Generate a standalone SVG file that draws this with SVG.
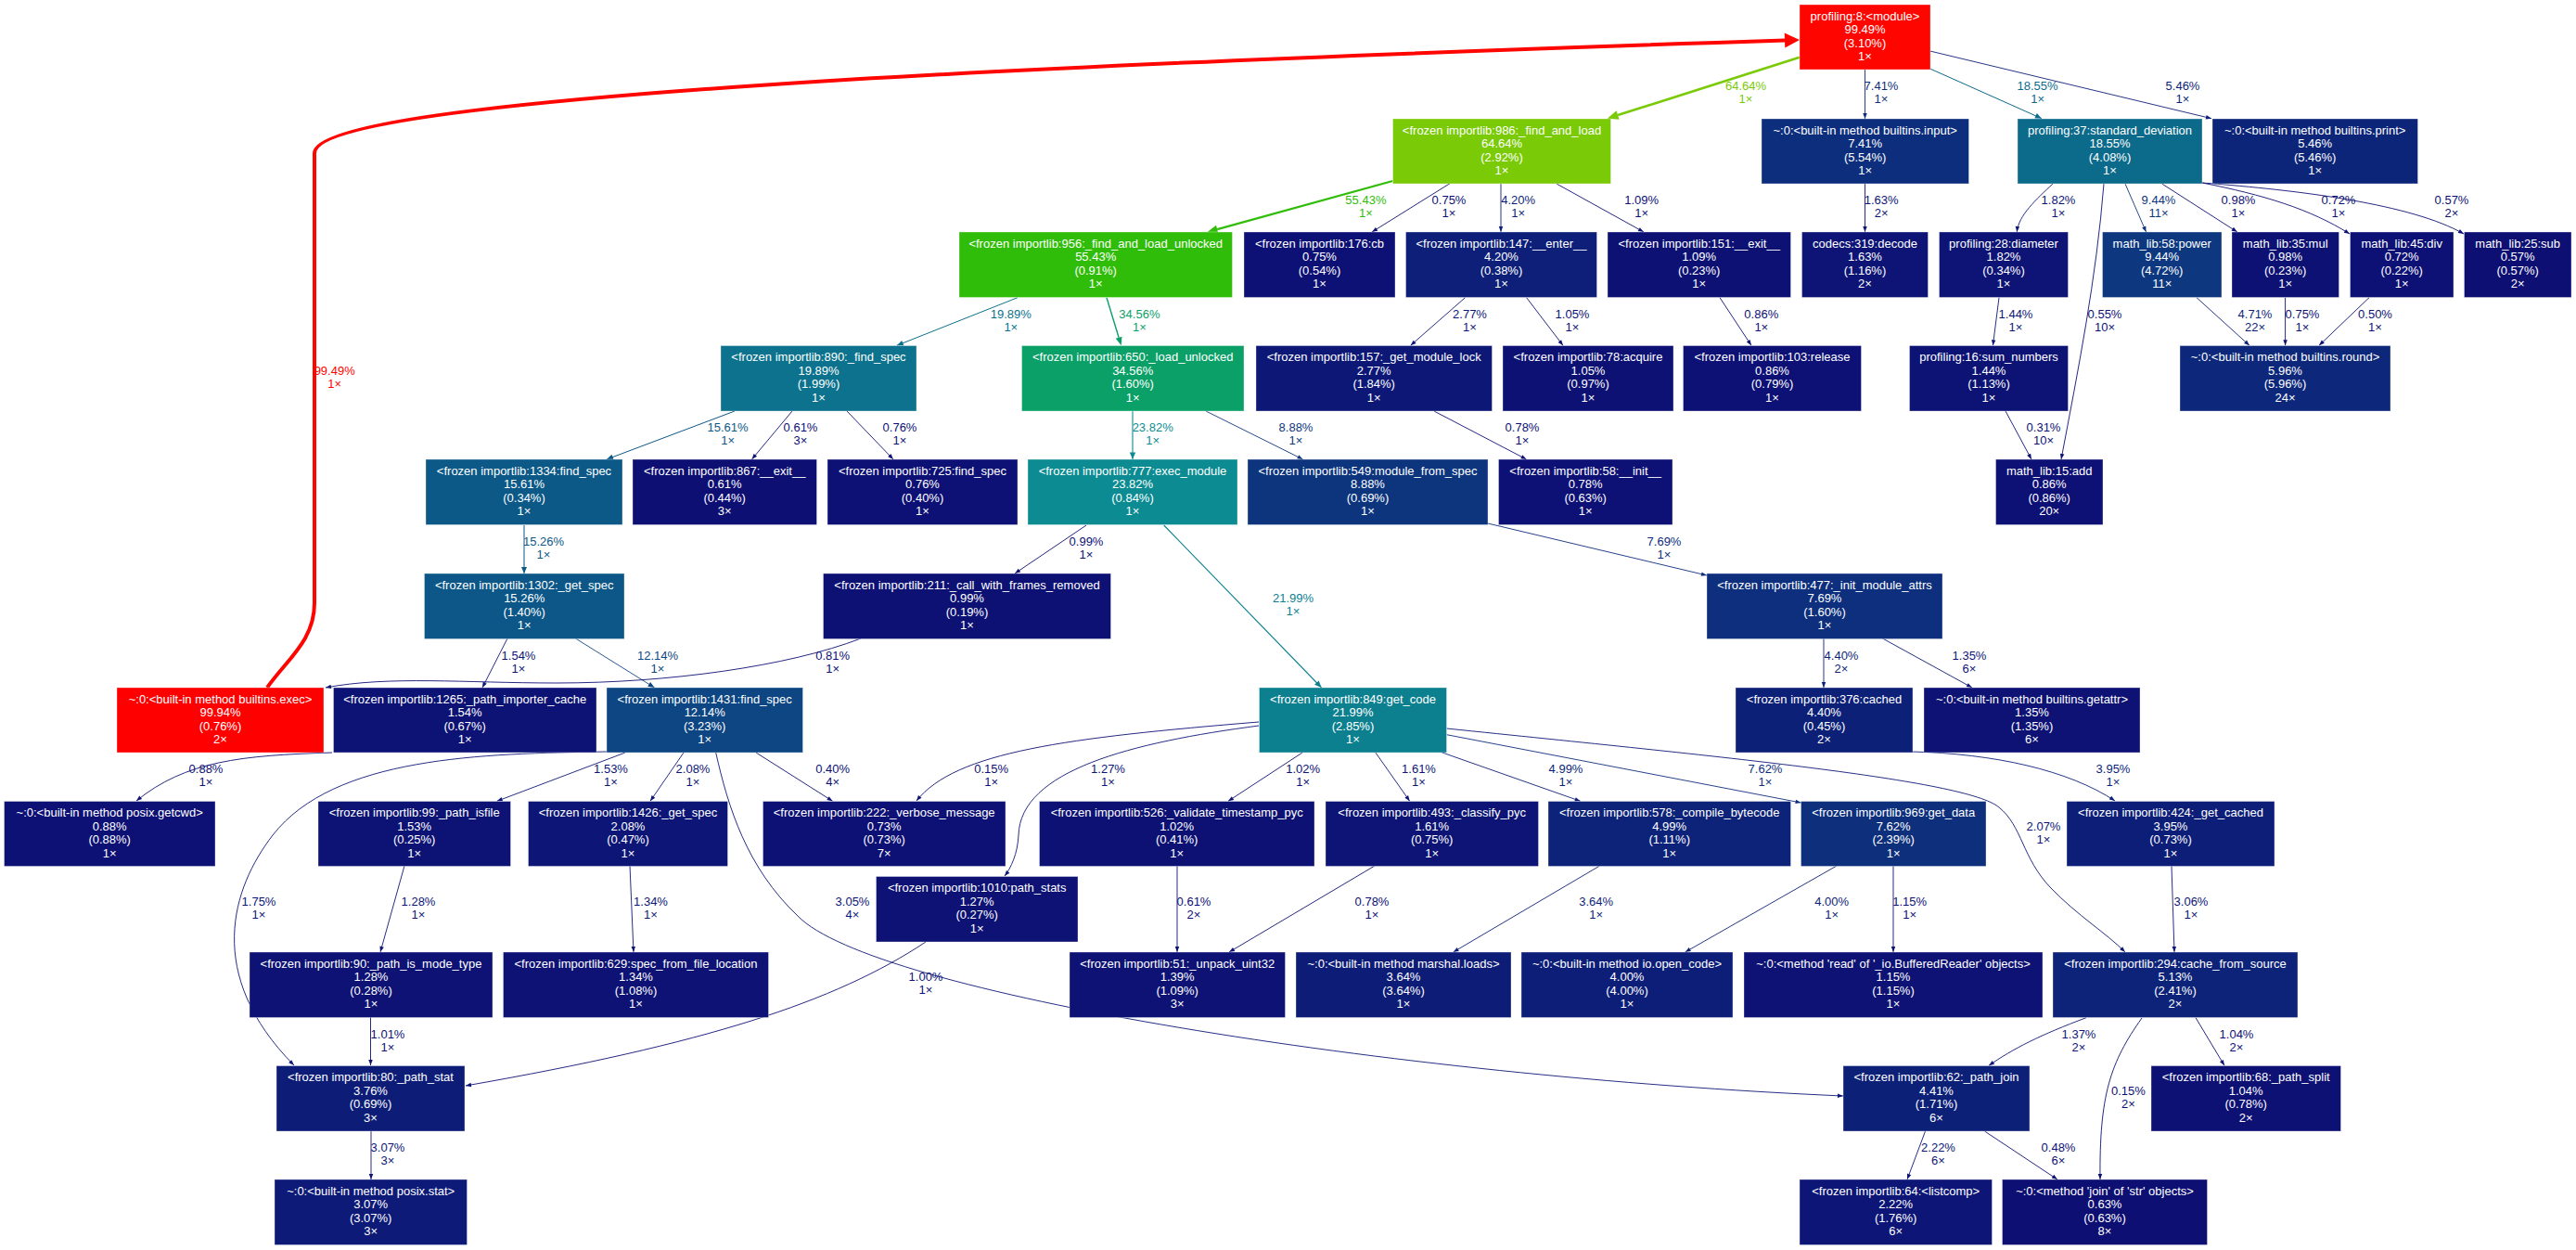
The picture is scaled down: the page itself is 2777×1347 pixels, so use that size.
<svg xmlns="http://www.w3.org/2000/svg" width="2777" height="1347" viewBox="0 0 2777 1347">
<style>
text{font-family:"Liberation Sans",Arial,Helvetica,sans-serif;font-size:13px}
.n text{fill:#fff;text-anchor:middle}
.n rect{stroke:#fff;stroke-opacity:.35;stroke-width:1}
.edge path{fill:none}
.edge text{text-anchor:middle}
.e0 path{stroke:#0d1074;stroke-width:.9;marker-end:url(#m0)}.e0 text{fill:#0d1074}
.e1 path{stroke:#0d1676;stroke-width:.9;marker-end:url(#m1)}.e1 text{fill:#0d1676}
.e2 path{stroke:#0d1f78;stroke-width:.9;marker-end:url(#m2)}.e2 text{fill:#0d1f78}
.e3 path{stroke:#0d2e7c;stroke-width:.9;marker-end:url(#m3)}.e3 text{fill:#0d2e7c}
.e4 path{stroke:#0d367e;stroke-width:.9;marker-end:url(#m4)}.e4 text{fill:#0d367e}
.e5 path{stroke:#0d4682;stroke-width:.9;marker-end:url(#m5)}.e5 text{fill:#0d4682}
.e6 path{stroke:#0c5887;stroke-width:1;marker-end:url(#m6)}.e6 text{fill:#0c5887}
.e7 path{stroke:#0c6a8b;stroke-width:1;marker-end:url(#m7)}.e7 text{fill:#0c6a8b}
.e8 path{stroke:#0c728d;stroke-width:1;marker-end:url(#m8)}.e8 text{fill:#0c728d}
.e9 path{stroke:#0c808f;stroke-width:1.1;marker-end:url(#m9)}.e9 text{fill:#0c808f}
.e10 path{stroke:#0c8c92;stroke-width:1.1;marker-end:url(#m10)}.e10 text{fill:#0c8c92}
.e11 path{stroke:#0ba067;stroke-width:1.4;marker-end:url(#m11)}.e11 text{fill:#0ba067}
.e12 path{stroke:#30bd09;stroke-width:2.3;marker-end:url(#m12)}.e12 text{fill:#30bd09}
.e13 path{stroke:#7aca07;stroke-width:2.6;marker-end:url(#m13)}.e13 text{fill:#7aca07}
.e14 path{stroke:#fe0500;stroke-width:4;marker-end:url(#m14)}.e14 text{fill:#fe0500}
</style>
<defs>
<marker id="m0" markerUnits="userSpaceOnUse" markerWidth="7" markerHeight="5" refX="6" refY="2.25" orient="auto" overflow="visible"><path d="M0,0L6,2.25L0,4.5z" fill="#0d1074"/></marker>
<marker id="m1" markerUnits="userSpaceOnUse" markerWidth="7" markerHeight="5" refX="6" refY="2.25" orient="auto" overflow="visible"><path d="M0,0L6,2.25L0,4.5z" fill="#0d1676"/></marker>
<marker id="m2" markerUnits="userSpaceOnUse" markerWidth="7" markerHeight="5" refX="6" refY="2.25" orient="auto" overflow="visible"><path d="M0,0L6,2.25L0,4.5z" fill="#0d1f78"/></marker>
<marker id="m3" markerUnits="userSpaceOnUse" markerWidth="7" markerHeight="5" refX="6" refY="2.25" orient="auto" overflow="visible"><path d="M0,0L6,2.25L0,4.5z" fill="#0d2e7c"/></marker>
<marker id="m4" markerUnits="userSpaceOnUse" markerWidth="7" markerHeight="5" refX="6" refY="2.25" orient="auto" overflow="visible"><path d="M0,0L6,2.25L0,4.5z" fill="#0d367e"/></marker>
<marker id="m5" markerUnits="userSpaceOnUse" markerWidth="8" markerHeight="6" refX="7" refY="2.75" orient="auto" overflow="visible"><path d="M0,0L7,2.75L0,5.5z" fill="#0d4682"/></marker>
<marker id="m6" markerUnits="userSpaceOnUse" markerWidth="8" markerHeight="6" refX="7" refY="3" orient="auto" overflow="visible"><path d="M0,0L7,3L0,6z" fill="#0c5887"/></marker>
<marker id="m7" markerUnits="userSpaceOnUse" markerWidth="8" markerHeight="6" refX="7" refY="3" orient="auto" overflow="visible"><path d="M0,0L7,3L0,6z" fill="#0c6a8b"/></marker>
<marker id="m8" markerUnits="userSpaceOnUse" markerWidth="8" markerHeight="6" refX="7" refY="3" orient="auto" overflow="visible"><path d="M0,0L7,3L0,6z" fill="#0c728d"/></marker>
<marker id="m9" markerUnits="userSpaceOnUse" markerWidth="8" markerHeight="7" refX="7.5" refY="3.2" orient="auto" overflow="visible"><path d="M0,0L7.5,3.2L0,6.4z" fill="#0c808f"/></marker>
<marker id="m10" markerUnits="userSpaceOnUse" markerWidth="8" markerHeight="7" refX="7.5" refY="3.2" orient="auto" overflow="visible"><path d="M0,0L7.5,3.2L0,6.4z" fill="#0c8c92"/></marker>
<marker id="m11" markerUnits="userSpaceOnUse" markerWidth="10" markerHeight="8" refX="0" refY="3.5" orient="auto" overflow="visible"><path d="M0,0L9,3.5L0,7z" fill="#0ba067"/></marker>
<marker id="m12" markerUnits="userSpaceOnUse" markerWidth="12" markerHeight="10" refX="0" refY="4.5" orient="auto" overflow="visible"><path d="M0,0L11,4.5L0,9z" fill="#30bd09"/></marker>
<marker id="m13" markerUnits="userSpaceOnUse" markerWidth="13" markerHeight="11" refX="0" refY="5" orient="auto" overflow="visible"><path d="M0,0L12,5L0,10z" fill="#7aca07"/></marker>
<marker id="m14" markerUnits="userSpaceOnUse" markerWidth="17" markerHeight="17" refX="0" refY="8" orient="auto" overflow="visible"><path d="M0,0L16,8L0,16z" fill="#fe0500"/></marker>
</defs>
<rect x="0" y="0" width="2777" height="1347" fill="#fff"/>
<g id="edges">
<g class="edge e14" id="e-exec-module"><path d="M288,741C310,710 339,690 339,650L339,165C339,105 1100,70 1924,43.5"/><text x="360.7" y="403.7"><tspan x="360.7">99.49%</tspan><tspan x="360.7" dy="14">1×</tspan></text></g>
<g class="edge e13" id="e-module-986"><path d="M1940,61.7L1744.1,124.1"/><text x="1882" y="97.4"><tspan x="1882">64.64%</tspan><tspan x="1882" dy="14">1×</tspan></text></g>
<g class="edge e3" id="e-module-input"><path d="M2010.5,75L2010.5,128"/><text x="2028" y="97.4"><tspan x="2028">7.41%</tspan><tspan x="2028" dy="14">1×</tspan></text></g>
<g class="edge e7" id="e-module-std"><path d="M2080.6,74L2201,127.7"/><text x="2196.6" y="97.4"><tspan x="2196.6">18.55%</tspan><tspan x="2196.6" dy="14">1×</tspan></text></g>
<g class="edge e2" id="e-module-print"><path d="M2080.6,55L2384,127.7"/><text x="2353" y="97.4"><tspan x="2353">5.46%</tspan><tspan x="2353" dy="14">1×</tspan></text></g>
<g class="edge e12" id="e-986-956"><path d="M1501.4,195L1312.2,247.1"/><text x="1472.4" y="220.4"><tspan x="1472.4">55.43%</tspan><tspan x="1472.4" dy="14">1×</tspan></text></g>
<g class="edge e0" id="e-986-176"><path d="M1563,197.7L1479,250"/><text x="1562" y="220.4"><tspan x="1562">0.75%</tspan><tspan x="1562" dy="14">1×</tspan></text></g>
<g class="edge e2" id="e-986-147"><path d="M1618,198L1618,250"/><text x="1636.7" y="220.4"><tspan x="1636.7">4.20%</tspan><tspan x="1636.7" dy="14">1×</tspan></text></g>
<g class="edge e0" id="e-986-151"><path d="M1678,198L1772,250"/><text x="1769.7" y="220.4"><tspan x="1769.7">1.09%</tspan><tspan x="1769.7" dy="14">1×</tspan></text></g>
<g class="edge e1" id="e-input-codecs"><path d="M2010.5,198L2010.5,250"/><text x="2028.2" y="220.4"><tspan x="2028.2">1.63%</tspan><tspan x="2028.2" dy="14">2×</tspan></text></g>
<g class="edge e1" id="e-std-diameter"><path d="M2213,198C2195,215 2176,232 2174.3,250"/><text x="2219" y="220.4"><tspan x="2219">1.82%</tspan><tspan x="2219" dy="14">1×</tspan></text></g>
<g class="edge e4" id="e-std-power"><path d="M2291,198L2313.6,250"/><text x="2327" y="220.4"><tspan x="2327">9.44%</tspan><tspan x="2327" dy="14">11×</tspan></text></g>
<g class="edge e0" id="e-std-mul"><path d="M2330.6,198L2411.8,250"/><text x="2413" y="220.4"><tspan x="2413">0.98%</tspan><tspan x="2413" dy="14">1×</tspan></text></g>
<g class="edge e0" id="e-std-div"><path d="M2374,197C2440,210 2490,225 2533,252"/><text x="2521" y="220.4"><tspan x="2521">0.72%</tspan><tspan x="2521" dy="14">1×</tspan></text></g>
<g class="edge e0" id="e-std-sub"><path d="M2374,197C2480,205 2600,220 2656,252"/><text x="2643" y="220.4"><tspan x="2643">0.57%</tspan><tspan x="2643" dy="14">2×</tspan></text></g>
<g class="edge e8" id="e-956-890"><path d="M1097,320.7L966.8,372.3"/><text x="1089.8" y="343"><tspan x="1089.8">19.89%</tspan><tspan x="1089.8" dy="14">1×</tspan></text></g>
<g class="edge e11" id="e-956-650"><path d="M1193,320.7L1206.1,363.7"/><text x="1228.4" y="343"><tspan x="1228.4">34.56%</tspan><tspan x="1228.4" dy="14">1×</tspan></text></g>
<g class="edge e1" id="e-147-157"><path d="M1579.5,320.7L1520.6,372.3"/><text x="1584.5" y="343"><tspan x="1584.5">2.77%</tspan><tspan x="1584.5" dy="14">1×</tspan></text></g>
<g class="edge e0" id="e-147-78"><path d="M1645.6,320.7L1685,372.3"/><text x="1695" y="343"><tspan x="1695">1.05%</tspan><tspan x="1695" dy="14">1×</tspan></text></g>
<g class="edge e0" id="e-151-103"><path d="M1854,320.7L1888,372.3"/><text x="1898.8" y="343"><tspan x="1898.8">0.86%</tspan><tspan x="1898.8" dy="14">1×</tspan></text></g>
<g class="edge e1" id="e-diameter-sum"><path d="M2155,320.7L2148.4,372.3"/><text x="2173" y="343"><tspan x="2173">1.44%</tspan><tspan x="2173" dy="14">1×</tspan></text></g>
<g class="edge e0" id="e-std-add"><path d="M2268,198C2260,300 2240,400 2222,495"/><text x="2269" y="343"><tspan x="2269">0.55%</tspan><tspan x="2269" dy="14">10×</tspan></text></g>
<g class="edge e2" id="e-power-round"><path d="M2368,320.7L2425,372.3"/><text x="2431" y="343"><tspan x="2431">4.71%</tspan><tspan x="2431" dy="14">22×</tspan></text></g>
<g class="edge e0" id="e-mul-round"><path d="M2463.6,320.7L2463.6,372.3"/><text x="2482" y="343"><tspan x="2482">0.75%</tspan><tspan x="2482" dy="14">1×</tspan></text></g>
<g class="edge e0" id="e-div-round"><path d="M2554,320.7L2500,372.3"/><text x="2560.5" y="343"><tspan x="2560.5">0.50%</tspan><tspan x="2560.5" dy="14">1×</tspan></text></g>
<g class="edge e6" id="e-890-1334"><path d="M792,443L654,495"/><text x="784.6" y="464.7"><tspan x="784.6">15.61%</tspan><tspan x="784.6" dy="14">1×</tspan></text></g>
<g class="edge e0" id="e-890-867"><path d="M854,443L810.5,495"/><text x="863" y="464.7"><tspan x="863">0.61%</tspan><tspan x="863" dy="14">3×</tspan></text></g>
<g class="edge e0" id="e-890-725"><path d="M913,443L963,495"/><text x="970" y="464.7"><tspan x="970">0.76%</tspan><tspan x="970" dy="14">1×</tspan></text></g>
<g class="edge e10" id="e-650-777"><path d="M1221,443L1221,495"/><text x="1242.7" y="464.7"><tspan x="1242.7">23.82%</tspan><tspan x="1242.7" dy="14">1×</tspan></text></g>
<g class="edge e4" id="e-650-549"><path d="M1300,443L1404.6,495"/><text x="1397" y="464.7"><tspan x="1397">8.88%</tspan><tspan x="1397" dy="14">1×</tspan></text></g>
<g class="edge e0" id="e-157-58"><path d="M1546,443L1645.6,495"/><text x="1641" y="464.7"><tspan x="1641">0.78%</tspan><tspan x="1641" dy="14">1×</tspan></text></g>
<g class="edge e0" id="e-sum-add"><path d="M2162,443L2190,495"/><text x="2203" y="464.7"><tspan x="2203">0.31%</tspan><tspan x="2203" dy="14">10×</tspan></text></g>
<g class="edge e6" id="e-1334-1302"><path d="M565,566L565,618"/><text x="586" y="588"><tspan x="586">15.26%</tspan><tspan x="586" dy="14">1×</tspan></text></g>
<g class="edge e0" id="e-777-211"><path d="M1171,566L1094,618"/><text x="1171" y="588"><tspan x="1171">0.99%</tspan><tspan x="1171" dy="14">1×</tspan></text></g>
<g class="edge e3" id="e-549-477"><path d="M1604,564L1840,620"/><text x="1794" y="588"><tspan x="1794">7.69%</tspan><tspan x="1794" dy="14">1×</tspan></text></g>
<g class="edge e9" id="e-777-getcode"><path d="M1254.7,566L1424.6,741"/><text x="1394" y="648.7"><tspan x="1394">21.99%</tspan><tspan x="1394" dy="14">1×</tspan></text></g>
<g class="edge e1" id="e-1302-1265"><path d="M547,688L520,741"/><text x="559" y="711.4"><tspan x="559">1.54%</tspan><tspan x="559" dy="14">1×</tspan></text></g>
<g class="edge e5" id="e-1302-1431"><path d="M620.5,688L705.6,741"/><text x="709" y="711.4"><tspan x="709">12.14%</tspan><tspan x="709" dy="14">1×</tspan></text></g>
<g class="edge e0" id="e-211-exec"><path d="M928,688C850,718 720,736 600,736C500,736 420,728 351,741"/><text x="897.6" y="711.4"><tspan x="897.6">0.81%</tspan><tspan x="897.6" dy="14">1×</tspan></text></g>
<g class="edge e2" id="e-477-376"><path d="M1966,688L1966,741"/><text x="1985" y="711.4"><tspan x="1985">4.40%</tspan><tspan x="1985" dy="14">2×</tspan></text></g>
<g class="edge e1" id="e-477-getattr"><path d="M2029.5,688L2126,741"/><text x="2123" y="711.4"><tspan x="2123">1.35%</tspan><tspan x="2123" dy="14">6×</tspan></text></g>
<g class="edge e0" id="e-1265-getcwd"><path d="M358,811C260,814 200,820 147,863"/><text x="222" y="833"><tspan x="222">0.88%</tspan><tspan x="222" dy="14">1×</tspan></text></g>
<g class="edge e1" id="e-1431-99"><path d="M674,811L535.7,863.3"/><text x="658.5" y="833"><tspan x="658.5">1.53%</tspan><tspan x="658.5" dy="14">1×</tspan></text></g>
<g class="edge e1" id="e-1431-1426"><path d="M737,811L701,863.3"/><text x="747" y="833"><tspan x="747">2.08%</tspan><tspan x="747" dy="14">1×</tspan></text></g>
<g class="edge e0" id="e-1431-222"><path d="M815,811L897.6,863.3"/><text x="897.6" y="833"><tspan x="897.6">0.40%</tspan><tspan x="897.6" dy="14">4×</tspan></text></g>
<g class="edge e0" id="e-getcode-222"><path d="M1357,778C1150,795 1030,810 988,863"/><text x="1068.6" y="833"><tspan x="1068.6">0.15%</tspan><tspan x="1068.6" dy="14">1×</tspan></text></g>
<g class="edge e1" id="e-getcode-pathstats"><path d="M1357,782C1220,800 1100,830 1098,900C1097,920 1090,935 1083,944"/><text x="1194.5" y="833"><tspan x="1194.5">1.27%</tspan><tspan x="1194.5" dy="14">1×</tspan></text></g>
<g class="edge e0" id="e-getcode-526"><path d="M1404.5,810.7L1324,863.3"/><text x="1404.6" y="833"><tspan x="1404.6">1.02%</tspan><tspan x="1404.6" dy="14">1×</tspan></text></g>
<g class="edge e1" id="e-getcode-493"><path d="M1482.7,810.7L1519.7,863.3"/><text x="1529.5" y="833"><tspan x="1529.5">1.61%</tspan><tspan x="1529.5" dy="14">1×</tspan></text></g>
<g class="edge e2" id="e-getcode-578"><path d="M1554,810.7L1703.7,863.3"/><text x="1688" y="833"><tspan x="1688">4.99%</tspan><tspan x="1688" dy="14">1×</tspan></text></g>
<g class="edge e3" id="e-getcode-969"><path d="M1559.5,791.7L1941.6,865"/><text x="1903" y="833"><tspan x="1903">7.62%</tspan><tspan x="1903" dy="14">1×</tspan></text></g>
<g class="edge e2" id="e-376-424"><path d="M2060,810C2150,812 2230,830 2280,863"/><text x="2278" y="833"><tspan x="2278">3.95%</tspan><tspan x="2278" dy="14">1×</tspan></text></g>
<g class="edge e1" id="e-getcode-cfs"><path d="M1559.5,785C1850,815 2120,840 2155,870C2180,890 2180,925 2211,957C2240,987 2270,1005 2291,1026"/><text x="2203" y="894.7"><tspan x="2203">2.07%</tspan><tspan x="2203" dy="14">1×</tspan></text></g>
<g class="edge e1" id="e-1431-pathstat"><path d="M654,810C520,812 360,815 294,900C250,957 220,1050 317,1148"/><text x="279" y="976.4"><tspan x="279">1.75%</tspan><tspan x="279" dy="14">1×</tspan></text></g>
<g class="edge e1" id="e-99-90"><path d="M436,933L410,1026"/><text x="451" y="976.4"><tspan x="451">1.28%</tspan><tspan x="451" dy="14">1×</tspan></text></g>
<g class="edge e1" id="e-1426-629"><path d="M679,933L683,1026"/><text x="701.5" y="976.4"><tspan x="701.5">1.34%</tspan><tspan x="701.5" dy="14">1×</tspan></text></g>
<g class="edge e1" id="e-1431-pathjoin"><path d="M771.7,811C785,870 805,935 860,987C940,1070 1500,1160 1987,1181"/><text x="919" y="976.4"><tspan x="919">3.05%</tspan><tspan x="919" dy="14">4×</tspan></text></g>
<g class="edge e0" id="e-526-51"><path d="M1269,933L1269,1026"/><text x="1287" y="976.4"><tspan x="1287">0.61%</tspan><tspan x="1287" dy="14">2×</tspan></text></g>
<g class="edge e0" id="e-493-51"><path d="M1482,933L1325,1026"/><text x="1479" y="976.4"><tspan x="1479">0.78%</tspan><tspan x="1479" dy="14">1×</tspan></text></g>
<g class="edge e2" id="e-578-marshal"><path d="M1724.6,933L1566.6,1026"/><text x="1720.6" y="976.4"><tspan x="1720.6">3.64%</tspan><tspan x="1720.6" dy="14">1×</tspan></text></g>
<g class="edge e2" id="e-969-open"><path d="M1980,933L1816.6,1026"/><text x="1974.6" y="976.4"><tspan x="1974.6">4.00%</tspan><tspan x="1974.6" dy="14">1×</tspan></text></g>
<g class="edge e0" id="e-969-read"><path d="M2041,933L2041,1026"/><text x="2058.6" y="976.4"><tspan x="2058.6">1.15%</tspan><tspan x="2058.6" dy="14">1×</tspan></text></g>
<g class="edge e1" id="e-424-cfs"><path d="M2341,933L2344,1026"/><text x="2362" y="976.4"><tspan x="2362">3.06%</tspan><tspan x="2362" dy="14">1×</tspan></text></g>
<g class="edge e0" id="e-pathstats-pathstat"><path d="M998,1015C900,1080 760,1125 502,1170"/><text x="998" y="1057.4"><tspan x="998">1.00%</tspan><tspan x="998" dy="14">1×</tspan></text></g>
<g class="edge e0" id="e-90-pathstat"><path d="M399.5,1096L399.5,1148"/><text x="418" y="1119"><tspan x="418">1.01%</tspan><tspan x="418" dy="14">1×</tspan></text></g>
<g class="edge e1" id="e-cfs-pathjoin"><path d="M2249,1096.7C2200,1115 2170,1130 2144,1148.3"/><text x="2241" y="1119"><tspan x="2241">1.37%</tspan><tspan x="2241" dy="14">2×</tspan></text></g>
<g class="edge e0" id="e-cfs-split"><path d="M2367,1096.7L2398,1148.3"/><text x="2411" y="1119"><tspan x="2411">1.04%</tspan><tspan x="2411" dy="14">2×</tspan></text></g>
<g class="edge e0" id="e-cfs-join"><path d="M2309,1097C2275,1145 2263,1180 2264,1271"/><text x="2294.4" y="1180.4"><tspan x="2294.4">0.15%</tspan><tspan x="2294.4" dy="14">2×</tspan></text></g>
<g class="edge e1" id="e-pathstat-posix"><path d="M400,1219L400,1271"/><text x="418" y="1241.4"><tspan x="418">3.07%</tspan><tspan x="418" dy="14">3×</tspan></text></g>
<g class="edge e1" id="e-pathjoin-listcomp"><path d="M2075.5,1219L2056,1271"/><text x="2089.5" y="1241.4"><tspan x="2089.5">2.22%</tspan><tspan x="2089.5" dy="14">6×</tspan></text></g>
<g class="edge e0" id="e-pathjoin-join"><path d="M2139.5,1219L2218,1271"/><text x="2219" y="1241.4"><tspan x="2219">0.48%</tspan><tspan x="2219" dy="14">6×</tspan></text></g>
</g>
<g id="nodes">
<g class="n" id="n-module"><rect x="1940" y="5" width="141" height="70" fill="#fe0500"/><text y="21.8"><tspan x="2010.5">profiling:8:&lt;module&gt;</tspan><tspan x="2010.5" dy="14.5">99.49%</tspan><tspan x="2010.5" dy="14.5">(3.10%)</tspan><tspan x="2010.5" dy="14.5">1×</tspan></text></g>
<g class="n" id="n-986"><rect x="1501.5" y="128" width="235" height="70" fill="#7aca07"/><text y="144.8"><tspan x="1619">&lt;frozen importlib:986:_find_and_load</tspan><tspan x="1619" dy="14.5">64.64%</tspan><tspan x="1619" dy="14.5">(2.92%)</tspan><tspan x="1619" dy="14.5">1×</tspan></text></g>
<g class="n" id="n-input"><rect x="1899" y="128" width="223.5" height="70" fill="#0d2e7c"/><text y="144.8"><tspan x="2010.7">~:0:&lt;built-in method builtins.input&gt;</tspan><tspan x="2010.7" dy="14.5">7.41%</tspan><tspan x="2010.7" dy="14.5">(5.54%)</tspan><tspan x="2010.7" dy="14.5">1×</tspan></text></g>
<g class="n" id="n-std"><rect x="2175" y="128" width="199" height="70" fill="#0c6a8b"/><text y="144.8"><tspan x="2274.5">profiling:37:standard_deviation</tspan><tspan x="2274.5" dy="14.5">18.55%</tspan><tspan x="2274.5" dy="14.5">(4.08%)</tspan><tspan x="2274.5" dy="14.5">1×</tspan></text></g>
<g class="n" id="n-print"><rect x="2385" y="128" width="221.5" height="70" fill="#0d2579"/><text y="144.8"><tspan x="2495.7">~:0:&lt;built-in method builtins.print&gt;</tspan><tspan x="2495.7" dy="14.5">5.46%</tspan><tspan x="2495.7" dy="14.5">(5.46%)</tspan><tspan x="2495.7" dy="14.5">1×</tspan></text></g>
<g class="n" id="n-956"><rect x="1034" y="250" width="294.5" height="70.5" fill="#30bd09"/><text y="266.8"><tspan x="1181.2">&lt;frozen importlib:956:_find_and_load_unlocked</tspan><tspan x="1181.2" dy="14.5">55.43%</tspan><tspan x="1181.2" dy="14.5">(0.91%)</tspan><tspan x="1181.2" dy="14.5">1×</tspan></text></g>
<g class="n" id="n-176"><rect x="1341" y="250" width="163" height="70.5" fill="#0d1074"/><text y="266.8"><tspan x="1422.5">&lt;frozen importlib:176:cb</tspan><tspan x="1422.5" dy="14.5">0.75%</tspan><tspan x="1422.5" dy="14.5">(0.54%)</tspan><tspan x="1422.5" dy="14.5">1×</tspan></text></g>
<g class="n" id="n-147"><rect x="1515.5" y="250" width="206" height="70.5" fill="#0d1f78"/><text y="266.8"><tspan x="1618.5">&lt;frozen importlib:147:__enter__</tspan><tspan x="1618.5" dy="14.5">4.20%</tspan><tspan x="1618.5" dy="14.5">(0.38%)</tspan><tspan x="1618.5" dy="14.5">1×</tspan></text></g>
<g class="n" id="n-151"><rect x="1733" y="250" width="197.5" height="70.5" fill="#0d1174"/><text y="266.8"><tspan x="1831.7">&lt;frozen importlib:151:__exit__</tspan><tspan x="1831.7" dy="14.5">1.09%</tspan><tspan x="1831.7" dy="14.5">(0.23%)</tspan><tspan x="1831.7" dy="14.5">1×</tspan></text></g>
<g class="n" id="n-codecs"><rect x="1942.5" y="250" width="136" height="70.5" fill="#0d1475"/><text y="266.8"><tspan x="2010.5">codecs:319:decode</tspan><tspan x="2010.5" dy="14.5">1.63%</tspan><tspan x="2010.5" dy="14.5">(1.16%)</tspan><tspan x="2010.5" dy="14.5">2×</tspan></text></g>
<g class="n" id="n-diameter"><rect x="2090.5" y="250" width="139" height="70.5" fill="#0d1475"/><text y="266.8"><tspan x="2160">profiling:28:diameter</tspan><tspan x="2160" dy="14.5">1.82%</tspan><tspan x="2160" dy="14.5">(0.34%)</tspan><tspan x="2160" dy="14.5">1×</tspan></text></g>
<g class="n" id="n-power"><rect x="2266.5" y="250" width="128.5" height="70.5" fill="#0d387f"/><text y="266.8"><tspan x="2330.7">math_lib:58:power</tspan><tspan x="2330.7" dy="14.5">9.44%</tspan><tspan x="2330.7" dy="14.5">(4.72%)</tspan><tspan x="2330.7" dy="14.5">11×</tspan></text></g>
<g class="n" id="n-mul"><rect x="2406" y="250" width="115.5" height="70.5" fill="#0d1174"/><text y="266.8"><tspan x="2463.7">math_lib:35:mul</tspan><tspan x="2463.7" dy="14.5">0.98%</tspan><tspan x="2463.7" dy="14.5">(0.23%)</tspan><tspan x="2463.7" dy="14.5">1×</tspan></text></g>
<g class="n" id="n-div"><rect x="2533.5" y="250" width="111.5" height="70.5" fill="#0d1074"/><text y="266.8"><tspan x="2589.2">math_lib:45:div</tspan><tspan x="2589.2" dy="14.5">0.72%</tspan><tspan x="2589.2" dy="14.5">(0.22%)</tspan><tspan x="2589.2" dy="14.5">1×</tspan></text></g>
<g class="n" id="n-sub"><rect x="2656.5" y="250" width="115.5" height="70.5" fill="#0d0f73"/><text y="266.8"><tspan x="2714.2">math_lib:25:sub</tspan><tspan x="2714.2" dy="14.5">0.57%</tspan><tspan x="2714.2" dy="14.5">(0.57%)</tspan><tspan x="2714.2" dy="14.5">2×</tspan></text></g>
<g class="n" id="n-890"><rect x="777" y="372.5" width="211" height="70.5" fill="#0c728d"/><text y="389.3"><tspan x="882.5">&lt;frozen importlib:890:_find_spec</tspan><tspan x="882.5" dy="14.5">19.89%</tspan><tspan x="882.5" dy="14.5">(1.99%)</tspan><tspan x="882.5" dy="14.5">1×</tspan></text></g>
<g class="n" id="n-650"><rect x="1101.5" y="372.5" width="239.5" height="70.5" fill="#0ba067"/><text y="389.3"><tspan x="1221.2">&lt;frozen importlib:650:_load_unlocked</tspan><tspan x="1221.2" dy="14.5">34.56%</tspan><tspan x="1221.2" dy="14.5">(1.60%)</tspan><tspan x="1221.2" dy="14.5">1×</tspan></text></g>
<g class="n" id="n-157"><rect x="1354" y="372.5" width="254.5" height="70.5" fill="#0d1876"/><text y="389.3"><tspan x="1481.2">&lt;frozen importlib:157:_get_module_lock</tspan><tspan x="1481.2" dy="14.5">2.77%</tspan><tspan x="1481.2" dy="14.5">(1.84%)</tspan><tspan x="1481.2" dy="14.5">1×</tspan></text></g>
<g class="n" id="n-78"><rect x="1620" y="372.5" width="184" height="70.5" fill="#0d1174"/><text y="389.3"><tspan x="1712">&lt;frozen importlib:78:acquire</tspan><tspan x="1712" dy="14.5">1.05%</tspan><tspan x="1712" dy="14.5">(0.97%)</tspan><tspan x="1712" dy="14.5">1×</tspan></text></g>
<g class="n" id="n-103"><rect x="1814.5" y="372.5" width="192" height="70.5" fill="#0d1074"/><text y="389.3"><tspan x="1910.5">&lt;frozen importlib:103:release</tspan><tspan x="1910.5" dy="14.5">0.86%</tspan><tspan x="1910.5" dy="14.5">(0.79%)</tspan><tspan x="1910.5" dy="14.5">1×</tspan></text></g>
<g class="n" id="n-sum"><rect x="2058.5" y="372.5" width="171" height="70.5" fill="#0d1375"/><text y="389.3"><tspan x="2144">profiling:16:sum_numbers</tspan><tspan x="2144" dy="14.5">1.44%</tspan><tspan x="2144" dy="14.5">(1.13%)</tspan><tspan x="2144" dy="14.5">1×</tspan></text></g>
<g class="n" id="n-round"><rect x="2350" y="372.5" width="227" height="70.5" fill="#0d287a"/><text y="389.3"><tspan x="2463.5">~:0:&lt;built-in method builtins.round&gt;</tspan><tspan x="2463.5" dy="14.5">5.96%</tspan><tspan x="2463.5" dy="14.5">(5.96%)</tspan><tspan x="2463.5" dy="14.5">24×</tspan></text></g>
<g class="n" id="n-1334"><rect x="459" y="495" width="212" height="70.5" fill="#0c5987"/><text y="511.8"><tspan x="565">&lt;frozen importlib:1334:find_spec</tspan><tspan x="565" dy="14.5">15.61%</tspan><tspan x="565" dy="14.5">(0.34%)</tspan><tspan x="565" dy="14.5">1×</tspan></text></g>
<g class="n" id="n-867"><rect x="682" y="495" width="198.5" height="70.5" fill="#0d0f73"/><text y="511.8"><tspan x="781.2">&lt;frozen importlib:867:__exit__</tspan><tspan x="781.2" dy="14.5">0.61%</tspan><tspan x="781.2" dy="14.5">(0.44%)</tspan><tspan x="781.2" dy="14.5">3×</tspan></text></g>
<g class="n" id="n-725"><rect x="892" y="495" width="205" height="70.5" fill="#0d1074"/><text y="511.8"><tspan x="994.5">&lt;frozen importlib:725:find_spec</tspan><tspan x="994.5" dy="14.5">0.76%</tspan><tspan x="994.5" dy="14.5">(0.40%)</tspan><tspan x="994.5" dy="14.5">1×</tspan></text></g>
<g class="n" id="n-777"><rect x="1108" y="495" width="226" height="70.5" fill="#0c8c92"/><text y="511.8"><tspan x="1221">&lt;frozen importlib:777:exec_module</tspan><tspan x="1221" dy="14.5">23.82%</tspan><tspan x="1221" dy="14.5">(0.84%)</tspan><tspan x="1221" dy="14.5">1×</tspan></text></g>
<g class="n" id="n-549"><rect x="1345" y="495" width="259" height="70.5" fill="#0d357e"/><text y="511.8"><tspan x="1474.5">&lt;frozen importlib:549:module_from_spec</tspan><tspan x="1474.5" dy="14.5">8.88%</tspan><tspan x="1474.5" dy="14.5">(0.69%)</tspan><tspan x="1474.5" dy="14.5">1×</tspan></text></g>
<g class="n" id="n-58"><rect x="1615.5" y="495" width="187.5" height="70.5" fill="#0d1074"/><text y="511.8"><tspan x="1709.2">&lt;frozen importlib:58:__init__</tspan><tspan x="1709.2" dy="14.5">0.78%</tspan><tspan x="1709.2" dy="14.5">(0.63%)</tspan><tspan x="1709.2" dy="14.5">1×</tspan></text></g>
<g class="n" id="n-add"><rect x="2151.5" y="495" width="115.5" height="70.5" fill="#0d1074"/><text y="511.8"><tspan x="2209.2">math_lib:15:add</tspan><tspan x="2209.2" dy="14.5">0.86%</tspan><tspan x="2209.2" dy="14.5">(0.86%)</tspan><tspan x="2209.2" dy="14.5">20×</tspan></text></g>
<g class="n" id="n-1302"><rect x="457.5" y="618" width="215.5" height="70.5" fill="#0c5787"/><text y="634.8"><tspan x="565.2">&lt;frozen importlib:1302:_get_spec</tspan><tspan x="565.2" dy="14.5">15.26%</tspan><tspan x="565.2" dy="14.5">(1.40%)</tspan><tspan x="565.2" dy="14.5">1×</tspan></text></g>
<g class="n" id="n-211"><rect x="887.5" y="618" width="310" height="70.5" fill="#0d1174"/><text y="634.8"><tspan x="1042.5">&lt;frozen importlib:211:_call_with_frames_removed</tspan><tspan x="1042.5" dy="14.5">0.99%</tspan><tspan x="1042.5" dy="14.5">(0.19%)</tspan><tspan x="1042.5" dy="14.5">1×</tspan></text></g>
<g class="n" id="n-477"><rect x="1840" y="618" width="254" height="70.5" fill="#0d2f7d"/><text y="634.8"><tspan x="1967">&lt;frozen importlib:477:_init_module_attrs</tspan><tspan x="1967" dy="14.5">7.69%</tspan><tspan x="1967" dy="14.5">(1.60%)</tspan><tspan x="1967" dy="14.5">1×</tspan></text></g>
<g class="n" id="n-exec"><rect x="126" y="741" width="223" height="70" fill="#ff0000"/><text y="757.8"><tspan x="237.5">~:0:&lt;built-in method builtins.exec&gt;</tspan><tspan x="237.5" dy="14.5">99.94%</tspan><tspan x="237.5" dy="14.5">(0.76%)</tspan><tspan x="237.5" dy="14.5">2×</tspan></text></g>
<g class="n" id="n-1265"><rect x="359.5" y="741" width="283.5" height="70" fill="#0d1375"/><text y="757.8"><tspan x="501.2">&lt;frozen importlib:1265:_path_importer_cache</tspan><tspan x="501.2" dy="14.5">1.54%</tspan><tspan x="501.2" dy="14.5">(0.67%)</tspan><tspan x="501.2" dy="14.5">1×</tspan></text></g>
<g class="n" id="n-1431"><rect x="654" y="741" width="211.5" height="70" fill="#0d4682"/><text y="757.8"><tspan x="759.7">&lt;frozen importlib:1431:find_spec</tspan><tspan x="759.7" dy="14.5">12.14%</tspan><tspan x="759.7" dy="14.5">(3.23%)</tspan><tspan x="759.7" dy="14.5">1×</tspan></text></g>
<g class="n" id="n-getcode"><rect x="1357.5" y="741" width="202" height="70" fill="#0c808f"/><text y="757.8"><tspan x="1458.5">&lt;frozen importlib:849:get_code</tspan><tspan x="1458.5" dy="14.5">21.99%</tspan><tspan x="1458.5" dy="14.5">(2.85%)</tspan><tspan x="1458.5" dy="14.5">1×</tspan></text></g>
<g class="n" id="n-376"><rect x="1871" y="741" width="191" height="70" fill="#0d2078"/><text y="757.8"><tspan x="1966.5">&lt;frozen importlib:376:cached</tspan><tspan x="1966.5" dy="14.5">4.40%</tspan><tspan x="1966.5" dy="14.5">(0.45%)</tspan><tspan x="1966.5" dy="14.5">2×</tspan></text></g>
<g class="n" id="n-getattr"><rect x="2074" y="741" width="233" height="70" fill="#0d1274"/><text y="757.8"><tspan x="2190.5">~:0:&lt;built-in method builtins.getattr&gt;</tspan><tspan x="2190.5" dy="14.5">1.35%</tspan><tspan x="2190.5" dy="14.5">(1.35%)</tspan><tspan x="2190.5" dy="14.5">6×</tspan></text></g>
<g class="n" id="n-getcwd"><rect x="4.5" y="863.5" width="227.5" height="70" fill="#0d1074"/><text y="880.3"><tspan x="118.2">~:0:&lt;built-in method posix.getcwd&gt;</tspan><tspan x="118.2" dy="14.5">0.88%</tspan><tspan x="118.2" dy="14.5">(0.88%)</tspan><tspan x="118.2" dy="14.5">1×</tspan></text></g>
<g class="n" id="n-99"><rect x="343" y="863.5" width="207.5" height="70" fill="#0d1375"/><text y="880.3"><tspan x="446.7">&lt;frozen importlib:99:_path_isfile</tspan><tspan x="446.7" dy="14.5">1.53%</tspan><tspan x="446.7" dy="14.5">(0.25%)</tspan><tspan x="446.7" dy="14.5">1×</tspan></text></g>
<g class="n" id="n-1426"><rect x="569.5" y="863.5" width="215" height="70" fill="#0d1676"/><text y="880.3"><tspan x="677">&lt;frozen importlib:1426:_get_spec</tspan><tspan x="677" dy="14.5">2.08%</tspan><tspan x="677" dy="14.5">(0.47%)</tspan><tspan x="677" dy="14.5">1×</tspan></text></g>
<g class="n" id="n-222"><rect x="822.5" y="863.5" width="261.5" height="70" fill="#0d1074"/><text y="880.3"><tspan x="953.2">&lt;frozen importlib:222:_verbose_message</tspan><tspan x="953.2" dy="14.5">0.73%</tspan><tspan x="953.2" dy="14.5">(0.73%)</tspan><tspan x="953.2" dy="14.5">7×</tspan></text></g>
<g class="n" id="n-526"><rect x="1120.5" y="863.5" width="296.5" height="70" fill="#0d1174"/><text y="880.3"><tspan x="1268.7">&lt;frozen importlib:526:_validate_timestamp_pyc</tspan><tspan x="1268.7" dy="14.5">1.02%</tspan><tspan x="1268.7" dy="14.5">(0.41%)</tspan><tspan x="1268.7" dy="14.5">1×</tspan></text></g>
<g class="n" id="n-493"><rect x="1429" y="863.5" width="229.5" height="70" fill="#0d1475"/><text y="880.3"><tspan x="1543.7">&lt;frozen importlib:493:_classify_pyc</tspan><tspan x="1543.7" dy="14.5">1.61%</tspan><tspan x="1543.7" dy="14.5">(0.75%)</tspan><tspan x="1543.7" dy="14.5">1×</tspan></text></g>
<g class="n" id="n-578"><rect x="1669" y="863.5" width="261.5" height="70" fill="#0d2279"/><text y="880.3"><tspan x="1799.7">&lt;frozen importlib:578:_compile_bytecode</tspan><tspan x="1799.7" dy="14.5">4.99%</tspan><tspan x="1799.7" dy="14.5">(1.11%)</tspan><tspan x="1799.7" dy="14.5">1×</tspan></text></g>
<g class="n" id="n-969"><rect x="1941.5" y="863.5" width="199.5" height="70" fill="#0d2f7c"/><text y="880.3"><tspan x="2041.2">&lt;frozen importlib:969:get_data</tspan><tspan x="2041.2" dy="14.5">7.62%</tspan><tspan x="2041.2" dy="14.5">(2.39%)</tspan><tspan x="2041.2" dy="14.5">1×</tspan></text></g>
<g class="n" id="n-424"><rect x="2228" y="863.5" width="224" height="70" fill="#0d1e78"/><text y="880.3"><tspan x="2340">&lt;frozen importlib:424:_get_cached</tspan><tspan x="2340" dy="14.5">3.95%</tspan><tspan x="2340" dy="14.5">(0.73%)</tspan><tspan x="2340" dy="14.5">1×</tspan></text></g>
<g class="n" id="n-pathstats"><rect x="944.5" y="944.5" width="217.5" height="70.5" fill="#0d1274"/><text y="961.3"><tspan x="1053.2">&lt;frozen importlib:1010:path_stats</tspan><tspan x="1053.2" dy="14.5">1.27%</tspan><tspan x="1053.2" dy="14.5">(0.27%)</tspan><tspan x="1053.2" dy="14.5">1×</tspan></text></g>
<g class="n" id="n-90"><rect x="269" y="1026" width="262" height="70.5" fill="#0d1274"/><text y="1042.8"><tspan x="400">&lt;frozen importlib:90:_path_is_mode_type</tspan><tspan x="400" dy="14.5">1.28%</tspan><tspan x="400" dy="14.5">(0.28%)</tspan><tspan x="400" dy="14.5">1×</tspan></text></g>
<g class="n" id="n-629"><rect x="542.5" y="1026" width="286" height="70.5" fill="#0d1274"/><text y="1042.8"><tspan x="685.5">&lt;frozen importlib:629:spec_from_file_location</tspan><tspan x="685.5" dy="14.5">1.34%</tspan><tspan x="685.5" dy="14.5">(1.08%)</tspan><tspan x="685.5" dy="14.5">1×</tspan></text></g>
<g class="n" id="n-51"><rect x="1153" y="1026" width="232.5" height="70.5" fill="#0d1274"/><text y="1042.8"><tspan x="1269.2">&lt;frozen importlib:51:_unpack_uint32</tspan><tspan x="1269.2" dy="14.5">1.39%</tspan><tspan x="1269.2" dy="14.5">(1.09%)</tspan><tspan x="1269.2" dy="14.5">3×</tspan></text></g>
<g class="n" id="n-marshal"><rect x="1397" y="1026" width="232" height="70.5" fill="#0d1c77"/><text y="1042.8"><tspan x="1513">~:0:&lt;built-in method marshal.loads&gt;</tspan><tspan x="1513" dy="14.5">3.64%</tspan><tspan x="1513" dy="14.5">(3.64%)</tspan><tspan x="1513" dy="14.5">1×</tspan></text></g>
<g class="n" id="n-opencode"><rect x="1640" y="1026" width="228" height="70.5" fill="#0d1e78"/><text y="1042.8"><tspan x="1754">~:0:&lt;built-in method io.open_code&gt;</tspan><tspan x="1754" dy="14.5">4.00%</tspan><tspan x="1754" dy="14.5">(4.00%)</tspan><tspan x="1754" dy="14.5">1×</tspan></text></g>
<g class="n" id="n-read"><rect x="1880" y="1026" width="322" height="70.5" fill="#0d1274"/><text y="1042.8"><tspan x="2041">~:0:&lt;method 'read' of '_io.BufferedReader' objects&gt;</tspan><tspan x="2041" dy="14.5">1.15%</tspan><tspan x="2041" dy="14.5">(1.15%)</tspan><tspan x="2041" dy="14.5">1×</tspan></text></g>
<g class="n" id="n-cfs"><rect x="2213" y="1026" width="264" height="70.5" fill="#0d2379"/><text y="1042.8"><tspan x="2345">&lt;frozen importlib:294:cache_from_source</tspan><tspan x="2345" dy="14.5">5.13%</tspan><tspan x="2345" dy="14.5">(2.41%)</tspan><tspan x="2345" dy="14.5">2×</tspan></text></g>
<g class="n" id="n-pathstat"><rect x="298" y="1148.5" width="203" height="70.5" fill="#0d1d77"/><text y="1165.3"><tspan x="399.5">&lt;frozen importlib:80:_path_stat</tspan><tspan x="399.5" dy="14.5">3.76%</tspan><tspan x="399.5" dy="14.5">(0.69%)</tspan><tspan x="399.5" dy="14.5">3×</tspan></text></g>
<g class="n" id="n-pathjoin"><rect x="1987" y="1148.5" width="201" height="70.5" fill="#0d2078"/><text y="1165.3"><tspan x="2087.5">&lt;frozen importlib:62:_path_join</tspan><tspan x="2087.5" dy="14.5">4.41%</tspan><tspan x="2087.5" dy="14.5">(1.71%)</tspan><tspan x="2087.5" dy="14.5">6×</tspan></text></g>
<g class="n" id="n-split"><rect x="2319" y="1148.5" width="204.5" height="70.5" fill="#0d1174"/><text y="1165.3"><tspan x="2421.2">&lt;frozen importlib:68:_path_split</tspan><tspan x="2421.2" dy="14.5">1.04%</tspan><tspan x="2421.2" dy="14.5">(0.78%)</tspan><tspan x="2421.2" dy="14.5">2×</tspan></text></g>
<g class="n" id="n-posixstat"><rect x="296" y="1271" width="207.5" height="70.5" fill="#0d1a77"/><text y="1287.8"><tspan x="399.7">~:0:&lt;built-in method posix.stat&gt;</tspan><tspan x="399.7" dy="14.5">3.07%</tspan><tspan x="399.7" dy="14.5">(3.07%)</tspan><tspan x="399.7" dy="14.5">3×</tspan></text></g>
<g class="n" id="n-listcomp"><rect x="1940" y="1271" width="207.5" height="70.5" fill="#0d1676"/><text y="1287.8"><tspan x="2043.7">&lt;frozen importlib:64:&lt;listcomp&gt;</tspan><tspan x="2043.7" dy="14.5">2.22%</tspan><tspan x="2043.7" dy="14.5">(1.76%)</tspan><tspan x="2043.7" dy="14.5">6×</tspan></text></g>
<g class="n" id="n-join"><rect x="2158.5" y="1271" width="221" height="70.5" fill="#0d0f73"/><text y="1287.8"><tspan x="2269">~:0:&lt;method 'join' of 'str' objects&gt;</tspan><tspan x="2269" dy="14.5">0.63%</tspan><tspan x="2269" dy="14.5">(0.63%)</tspan><tspan x="2269" dy="14.5">8×</tspan></text></g>
</g>
</svg>
